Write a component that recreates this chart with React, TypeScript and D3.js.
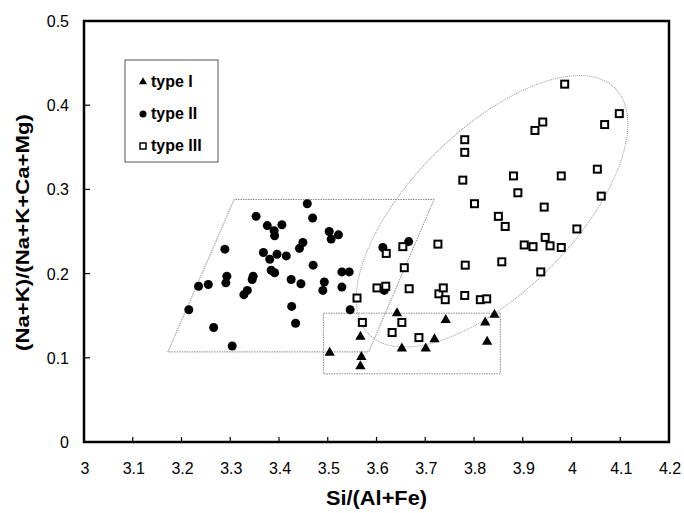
import React from "react";
import * as d3 from "d3";

// values
const typeI: [number, number][] = [
  [3.504, 0.106], [3.567, 0.125], [3.569, 0.101], [3.567, 0.09],
  [3.642, 0.153], [3.652, 0.111], [3.701, 0.111], [3.719, 0.122],
  [3.742, 0.145], [3.823, 0.142], [3.827, 0.119], [3.842, 0.151],
];

const typeII: [number, number][] = [
  [3.215, 0.157], [3.235, 0.185], [3.255, 0.187], [3.266, 0.136],
  [3.289, 0.229], [3.293, 0.197], [3.291, 0.189], [3.304, 0.114],
  [3.328, 0.175], [3.335, 0.18], [3.345, 0.193], [3.347, 0.197],
  [3.353, 0.268], [3.368, 0.225], [3.376, 0.257], [3.381, 0.217],
  [3.384, 0.204], [3.391, 0.201], [3.39, 0.251], [3.391, 0.245],
  [3.396, 0.223], [3.406, 0.258], [3.415, 0.221], [3.425, 0.193],
  [3.426, 0.161], [3.434, 0.141], [3.442, 0.23], [3.449, 0.237],
  [3.445, 0.188], [3.458, 0.283], [3.469, 0.266], [3.47, 0.21],
  [3.493, 0.19], [3.49, 0.18], [3.503, 0.25], [3.507, 0.241],
  [3.522, 0.246], [3.529, 0.202], [3.544, 0.202], [3.529, 0.184],
  [3.546, 0.157], [3.613, 0.231], [3.616, 0.18], [3.666, 0.238],
];

const typeIII: [number, number][] = [
  [3.56, 0.171], [3.571, 0.142], [3.601, 0.183], [3.619, 0.185],
  [3.62, 0.224], [3.632, 0.13], [3.652, 0.142], [3.654, 0.232],
  [3.657, 0.207], [3.667, 0.182], [3.687, 0.124], [3.726, 0.235],
  [3.728, 0.176], [3.737, 0.183], [3.741, 0.169], [3.777, 0.311],
  [3.781, 0.359], [3.781, 0.344], [3.781, 0.174], [3.782, 0.21],
  [3.801, 0.283], [3.813, 0.169], [3.826, 0.17], [3.85, 0.268],
  [3.857, 0.214], [3.864, 0.256], [3.881, 0.316], [3.89, 0.296],
  [3.903, 0.234], [3.921, 0.232], [3.925, 0.37], [3.937, 0.202],
  [3.941, 0.38], [3.944, 0.279], [3.946, 0.243], [3.956, 0.233],
  [3.979, 0.231], [3.979, 0.316], [3.986, 0.425], [4.011, 0.253],
  [4.053, 0.324], [4.061, 0.292], [4.068, 0.377], [4.098, 0.39],
];

// hand-drawn group outlines
const parallelogram: [number, number][] = [
  [3.172, 0.107], [3.308, 0.288], [3.718, 0.288], [3.584, 0.107],
];
const rectBox = { x0: 3.491, x1: 3.854, y0: 0.081, y1: 0.153 };
const ellipseCenter: [number, number] = [3.837, 0.274];

const xTicks = [3, 3.1, 3.2, 3.3, 3.4, 3.5, 3.6, 3.7, 3.8, 3.9, 4, 4.1, 4.2];
const yTicks = [0, 0.1, 0.2, 0.3, 0.4, 0.5];
const legendLabels = ["type I", "type II", "type III"];

const W = 684;
const H = 513;
const margin = { top: 21, right: 15, bottom: 71, left: 84 };
const font = "'Liberation Sans', Arial, sans-serif";

const App: React.FC = () => {
  const x = d3.scaleLinear().domain([3, 4.2]).range([margin.left, W - margin.right]);
  const y = d3.scaleLinear().domain([0, 0.5]).range([H - margin.bottom, margin.top]);

  const tri = d3.symbol().type(d3.symbolTriangle).size(46)();
  const triSmall = d3.symbol().type(d3.symbolTriangle).size(28)();

  const polyLine = d3
    .line<[number, number]>()
    .x((d) => x(d[0]))
    .y((d) => y(d[1]));

  const [ecx, ecy] = [x(ellipseCenter[0]), y(ellipseCenter[1])];
  const dotted = { fill: "none", stroke: "#888", strokeWidth: 1, strokeDasharray: "1.5,1" };

  const lx = 143;
  const legendY = [82, 114, 146];

  return (
    <svg width={W} height={H} style={{ display: "block", position: "absolute", left: 0, top: 0 }}>
      <rect width={W} height={H} fill="#fff" />

      {/* outlines */}
      <path d={polyLine(parallelogram) + "Z"} {...dotted} />
      <rect
        x={x(rectBox.x0)}
        y={y(rectBox.y1)}
        width={x(rectBox.x1) - x(rectBox.x0)}
        height={y(rectBox.y0) - y(rectBox.y1)}
        {...dotted}
      />
      <ellipse
        cx={ecx}
        cy={ecy}
        rx={174}
        ry={81}
        transform={`rotate(-45 ${ecx} ${ecy})`}
        {...dotted}
        stroke="#999"
        strokeDasharray="1,1"
      />

      {/* points */}
      {typeII.map((d, i) => (
        <circle key={"c" + i} cx={x(d[0])} cy={y(d[1])} r={4.5} fill="#000" />
      ))}
      {typeIII.map((d, i) => (
        <rect
          key={"s" + i}
          x={x(d[0]) - 3.5}
          y={y(d[1]) - 3.5}
          width={7}
          height={7}
          fill="#fff"
          stroke="#000"
          strokeWidth={2}
        />
      ))}
      {typeI.map((d, i) => (
        <path key={"t" + i} d={tri!} transform={`translate(${x(d[0])},${y(d[1])})`} fill="#000" />
      ))}

      {/* frame */}
      <rect
        x={margin.left}
        y={margin.top}
        width={W - margin.left - margin.right}
        height={H - margin.top - margin.bottom}
        fill="none"
        stroke="#000"
        strokeWidth={2.5}
      />

      {/* ticks */}
      {xTicks.map((t) => (
        <g key={"xt" + t}>
          <line x1={x(t)} x2={x(t)} y1={y(0)} y2={y(0) - 5} stroke="#000" strokeWidth={1.2} />
          <text x={x(t) + 1} y={474} textAnchor="middle" fontFamily={font} fontSize={16} fill="#000">
            {t}
          </text>
        </g>
      ))}
      {yTicks.map((t) => (
        <g key={"yt" + t}>
          <line x1={x(3)} x2={x(3) + 6} y1={y(t)} y2={y(t)} stroke="#000" strokeWidth={1.2} />
          <text x={69} y={y(t) + 6} textAnchor="end" fontFamily={font} fontSize={16} fill="#000">
            {t}
          </text>
        </g>
      ))}

      {/* axis titles */}
      <text
        x={(x(3) + x(4.2)) / 2}
        y={505}
        textAnchor="middle"
        fontFamily={font}
        fontWeight="bold"
        fontSize={20}
        textLength={101}
        lengthAdjust="spacingAndGlyphs"
      >
        Si/(Al+Fe)
      </text>
      <text
        transform={`translate(29,${(y(0) + y(0.5)) / 2 + 1}) rotate(-90)`}
        textAnchor="middle"
        fontFamily={font}
        fontWeight="bold"
        fontSize={19}
        textLength={237}
        lengthAdjust="spacingAndGlyphs"
      >
        (Na+K)/(Na+K+Ca+Mg)
      </text>

      {/* legend */}
      <rect x={125} y={60} width={93} height={102} fill="#fff" stroke="#555" strokeWidth={1} />
      <path d={triSmall!} transform={`translate(${lx},${legendY[0]})`} fill="#000" />
      <circle cx={lx} cy={legendY[1]} r={3.5} fill="#000" />
      <rect x={lx - 3} y={legendY[2] - 3} width={6} height={6} fill="#fff" stroke="#000" strokeWidth={1.5} />
      {legendLabels.map((l, i) => (
        <text key={l} x={lx + 8} y={legendY[i] + 5} fontFamily={font} fontWeight="bold" fontSize={16}>
          {l}
        </text>
      ))}
    </svg>
  );
};

export default App;
